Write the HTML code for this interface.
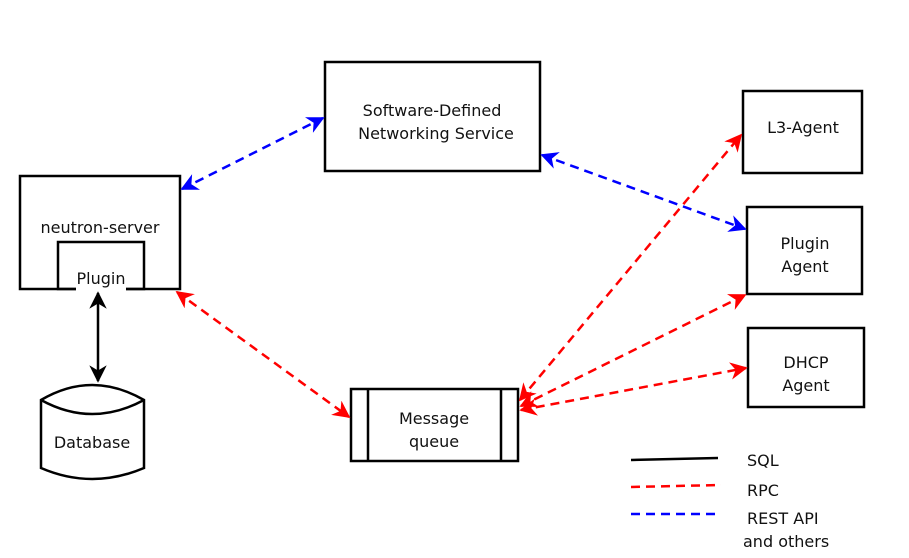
<!DOCTYPE html>
<html><head><style>body{margin:0;background:#fff}svg{display:block}text{font-family:"DejaVu Sans","Liberation Sans",sans-serif;font-size:16px;fill:#111}</style></head><body>
<svg width="909" height="558" viewBox="0 0 909 558" xmlns="http://www.w3.org/2000/svg">
<defs>
<marker id="mk" viewBox="0 0 10 10" refX="9" refY="5" markerWidth="7" markerHeight="7" orient="auto-start-reverse"><path d="M0,0 L10,5 L0,10 L3,5 z" fill="#000"/></marker>
<marker id="mr" viewBox="0 0 10 10" refX="9" refY="5" markerWidth="7" markerHeight="7" orient="auto-start-reverse"><path d="M0,0 L10,5 L0,10 L3,5 z" fill="#f00"/></marker>
<marker id="mb" viewBox="0 0 10 10" refX="9" refY="5" markerWidth="7" markerHeight="7" orient="auto-start-reverse"><path d="M0,0 L10,5 L0,10 L3,5 z" fill="#00f"/></marker>
</defs>
<g fill="none" stroke="#000" stroke-width="2.5">
<rect x="20" y="176" width="160" height="113" fill="#fff"/>
<rect x="58" y="242" width="86" height="47"/>
<rect x="325" y="62" width="215" height="109"/>
<rect x="743" y="91" width="119" height="82"/>
<rect x="747" y="207" width="115" height="87"/>
<rect x="748" y="328" width="116" height="79"/>
<rect x="351" y="389" width="167" height="72"/>
<line x1="368" y1="389" x2="368" y2="461"/><line x1="501" y1="389" x2="501" y2="461"/>
<path d="M41,400 Q92,370 144,400 L144,468 Q92,490 41,468 Z"/>
<path d="M41,400 Q92,428 144,400"/>
</g>
<rect x="76" y="283" width="50" height="8" fill="#fff"/>
<g stroke-width="2.5" fill="none">
<line x1="98" y1="293" x2="98" y2="381" stroke="#000" marker-start="url(#mk)" marker-end="url(#mk)"/>
<g stroke="#00f" stroke-dasharray="9,6">
<line x1="182" y1="189" x2="323" y2="118" marker-start="url(#mb)" marker-end="url(#mb)"/>
<line x1="542" y1="155" x2="745" y2="229" marker-start="url(#mb)" marker-end="url(#mb)"/>
</g>
<g stroke="#f00" stroke-dasharray="9,6">
<line x1="177" y1="292" x2="349" y2="417" marker-start="url(#mr)" marker-end="url(#mr)"/>
<line x1="520" y1="400" x2="741" y2="135" marker-start="url(#mr)" marker-end="url(#mr)"/>
<line x1="521" y1="406" x2="745" y2="295" marker-start="url(#mr)" marker-end="url(#mr)"/>
<line x1="521" y1="410" x2="746" y2="368" marker-start="url(#mr)" marker-end="url(#mr)"/>
<line x1="631" y1="487" x2="721" y2="485"/>
</g>
<line x1="631" y1="460" x2="718" y2="458" stroke="#000"/>
<line x1="631" y1="514" x2="721" y2="514" stroke="#00f" stroke-dasharray="9,6"/>
</g>
<text x="100" y="233" text-anchor="middle">neutron-server</text>
<text x="101" y="284" text-anchor="middle">Plugin</text>
<text x="92" y="448" text-anchor="middle">Database</text>
<text x="432" y="116" text-anchor="middle">Software-Defined</text>
<text x="436" y="139" text-anchor="middle">Networking Service</text>
<text x="803" y="133" text-anchor="middle">L3-Agent</text>
<text x="805" y="249" text-anchor="middle">Plugin</text>
<text x="805" y="272" text-anchor="middle">Agent</text>
<text x="806" y="368" text-anchor="middle">DHCP</text>
<text x="806" y="391" text-anchor="middle">Agent</text>
<text x="434" y="424" text-anchor="middle">Message</text>
<text x="434" y="447" text-anchor="middle">queue</text>
<text x="747" y="466">SQL</text>
<text x="747" y="496">RPC</text>
<text x="747" y="524">REST API</text>
<text x="743" y="547">and others</text>
</svg>
</body></html>
